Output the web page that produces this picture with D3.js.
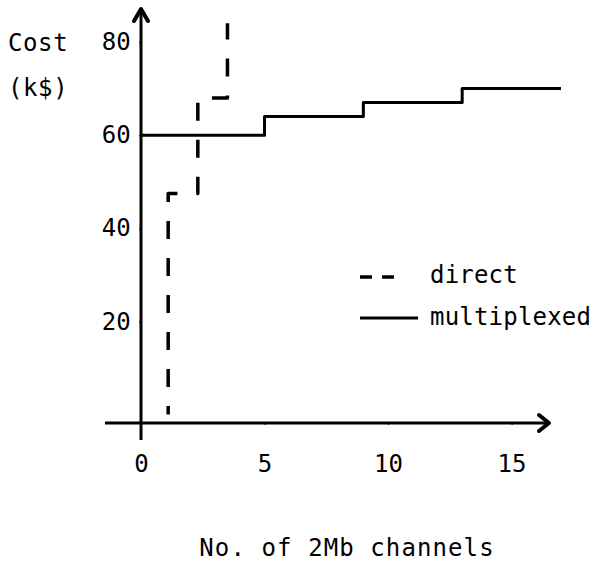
<!DOCTYPE html>
<html>
<head>
<meta charset="utf-8">
<script src="https://cdn.jsdelivr.net/npm/d3@7"></script>
<style>
    body { margin: 0; background: #fff; }
    .text { font-family: "DejaVu Sans Mono", monospace; font-size: 24px; letter-spacing: 0.2px; fill: #000; }
    .axis-line { stroke: #000; stroke-width: 3; fill: none; }
    .arrow { stroke: #000; stroke-width: 4; fill: none; stroke-linejoin: round; stroke-linecap: round; }
    .multiplexed { stroke: #000; stroke-width: 3; fill: none; stroke-linejoin: round; }
</style>
</head>
<body>
<div id="cost-chart"></div>
<script>
// Values
const xTicks = [0, 5, 10, 15];
const yTicks = [20, 40, 60, 80];
const seriesNames = ["direct", "multiplexed"];

// direct: cost jumps at these channel counts
const directStepX = [1.1, 2.3, 3.5];
const directCost = [47.5, 68, 84];

// multiplexed: starts at 0 channels, jumps at these counts, ends at 17
const multiplexedStart = 0;
const multiplexedStepX = [5, 9, 13];
const multiplexedCost = [60, 64, 67, 70];
const multiplexedEnd = 17;

/**
 * Constructor for the cost chart
 */
function CostChart(){
    let self = this;
    self.init();
};

/**
 * Sets up the svg, scales and axes
 */
CostChart.prototype.init = function(){
    let self = this;
    self.width = 595;
    self.height = 567;

    self.svg = d3.select("#cost-chart").append("svg")
        .attr("width", self.width)
        .attr("height", self.height);

    // x axis crosses a little below zero, as in the drawing
    self.xScale = d3.scaleLinear().domain([0, 17]).range([141, 561]);
    self.yScale = d3.scaleLinear().domain([-1.8, 80]).range([423, 42]);

    const x0 = self.xScale(0);
    const yBase = self.yScale(-1.8);

    // Axis lines with arrow heads
    self.svg.append("line")
        .attr("class", "axis-line")
        .attr("x1", x0).attr("y1", 440)
        .attr("x2", x0).attr("y2", 9);
    self.svg.append("path")
        .attr("class", "arrow")
        .attr("d", "M" + (x0 - 7) + ",21L" + x0 + ",9L" + (x0 + 7) + ",21");

    self.svg.append("line")
        .attr("class", "axis-line")
        .attr("x1", 105).attr("y1", yBase)
        .attr("x2", 549).attr("y2", yBase);
    self.svg.append("path")
        .attr("class", "arrow")
        .attr("d", "M539," + (yBase - 8) + "L549," + yBase + "L539," + (yBase + 8));

    // Tick labels
    const yAxis = d3.axisLeft(self.yScale).tickValues(yTicks).tickSize(2).tickPadding(8);
    const gy = self.svg.append("g")
        .attr("transform", "translate(" + x0 + ",0)")
        .call(yAxis);
    gy.select(".domain").remove();
    gy.selectAll("text").attr("class", "text").attr("font-size", null).attr("font-family", null);

    const xAxis = d3.axisBottom(self.xScale).tickValues(xTicks).tickSize(2).tickPadding(30);
    const gx = self.svg.append("g")
        .attr("transform", "translate(0," + yBase + ")")
        .call(xAxis);
    gx.select(".domain").remove();
    gx.selectAll("text").attr("class", "text").attr("font-size", null).attr("font-family", null);

    // Axis titles
    self.svg.append("text")
        .attr("class", "text")
        .attr("x", 8).attr("y", 51)
        .style("letter-spacing", "0.6px")
        .text("Cost");
    self.svg.append("text")
        .attr("class", "text")
        .attr("x", 8).attr("y", 96)
        .style("letter-spacing", "0.6px")
        .text("(k$)");
    self.svg.append("text")
        .attr("class", "text")
        .attr("x", 347).attr("y", 556)
        .attr("text-anchor", "middle")
        .style("letter-spacing", "1.1px")
        .text("No. of 2Mb channels");
};

/**
 * Turns step positions and levels into corner points
 */
CostChart.prototype.stepPoints = function(startX, startY, stepX, levels, endX){
    let pts = [[startX, startY]];
    let level = startY;
    stepX.forEach(function(sx, i){
        pts.push([sx, level]);
        level = levels[i];
        pts.push([sx, level]);
    });
    if(endX !== undefined){
        pts.push([endX, level]);
    }
    return pts;
};

/**
 * Draws both cost curves and the legend
 */
CostChart.prototype.update = function(){
    let self = this;

    const line = d3.line()
        .x(function(d) { return self.xScale(d[0]); })
        .y(function(d) { return self.yScale(d[1]); });

    // direct goes up from zero at the first step
    const directPts = self.stepPoints(directStepX[0], 0, directStepX, directCost);
    directPts.shift();
    self.svg.append("path")
        .attr("class", "direct")
        .attr("d", line(directPts))
        .attr("fill", "none")
        .attr("stroke", "#000")
        .attr("stroke-width", 3.5)
        .attr("stroke-linejoin", "round")
        .attr("stroke-dasharray", "18 19")
        .attr("stroke-dashoffset", 9.5);

    const multiPts = self.stepPoints(multiplexedStart, multiplexedCost[0],
        multiplexedStepX, multiplexedCost.slice(1), multiplexedEnd);
    self.svg.append("path")
        .attr("class", "multiplexed")
        .attr("d", line(multiPts));

    // Legend
    const legend = self.svg.append("g");
    legend.append("line")
        .attr("x1", 360).attr("y1", 277).attr("x2", 394).attr("y2", 277)
        .attr("stroke", "#000").attr("stroke-width", 3.5)
        .attr("stroke-dasharray", "12 10");
    legend.append("line")
        .attr("x1", 360).attr("y1", 318).attr("x2", 418).attr("y2", 318)
        .attr("stroke", "#000").attr("stroke-width", 3);

    legend.selectAll(".legend-text")
        .data(seriesNames)
        .enter()
        .append("text")
        .attr("class", "text legend-text")
        .attr("x", 430)
        .attr("y", function(d, i) { return 283 + i*42; })
        .text(function(d) { return d; });
};

let chart = new CostChart();
chart.update();
</script>
</body>
</html>
